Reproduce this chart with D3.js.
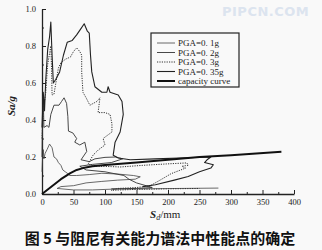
<!DOCTYPE html>
<html>
<head>
<meta charset="utf-8">
<script src="https://cdn.jsdelivr.net/npm/d3@7"></script>
<style>
  body { margin: 0; background: #f9f9f9; }
  svg { display: block; }
</style>
</head>
<body>
<div id="chart"></div>
<script>
const width = 322;
const height = 250;

// demand spectra (Sd mm, Sa/g)
const pga01 = [[0,0.12],[1,0.2],[2,0.24],[3,0.19],[5,0.22],[8,0.24],[12,0.27],[16,0.25],[19,0.2],[23,0.19],[26,0.17],[30,0.155],[33,0.13],[37,0.12],[41,0.11],[44,0.1],[55,0.1],[75,0.105],[95,0.112],[120,0.108],[145,0.1],[156,0.093],[148,0.08],[120,0.075],[95,0.068],[70,0.06],[50,0.045],[30,0.04],[24,0.03],[50,0.022],[80,0.022],[110,0.026],[160,0.028],[220,0.03],[280,0.032]];
const pga02 = [[0,0.2],[1,0.45],[2,0.53],[3,0.36],[8,0.37],[11,0.36],[14,0.43],[19,0.48],[27,0.48],[31,0.5],[35,0.52],[39,0.49],[41,0.42],[42,0.34],[49,0.33],[55,0.3],[52,0.28],[60,0.265],[68,0.28],[71,0.23],[65,0.2],[62,0.185],[75,0.175],[84,0.19],[100,0.198],[117,0.2],[128,0.19],[110,0.17],[80,0.16],[60,0.15],[70,0.13],[100,0.12],[130,0.1],[138,0.08],[150,0.06],[175,0.035],[150,0.03],[110,0.028]];
const pga03 = [[0,0.3],[2,0.45],[4,0.5],[6,0.55],[9,0.7],[12,0.76],[14,0.8],[15,0.7],[16,0.535],[19,0.54],[22,0.6],[26,0.68],[30,0.71],[38,0.73],[45,0.74],[50,0.77],[55,0.79],[60,0.77],[63,0.75],[63,0.66],[65,0.55],[70,0.52],[76,0.48],[87,0.5],[92,0.52],[89,0.44],[100,0.44],[108,0.43],[111,0.38],[111,0.335],[97,0.3],[100,0.265],[90,0.24],[81,0.21],[73,0.16],[85,0.15],[110,0.148],[124,0.146],[160,0.155],[200,0.163],[230,0.168],[232,0.155],[222,0.15],[228,0.14],[205,0.11],[190,0.08],[171,0.043],[150,0.035],[120,0.03],[110,0.02],[150,0.025],[200,0.028],[250,0.03]];
const pga035 = [[0,0.36],[2,0.55],[4,0.45],[6,0.62],[9,0.78],[12,0.85],[14,0.93],[16,0.75],[18,0.6],[22,0.62],[28,0.66],[34,0.75],[40,0.82],[48,0.83],[55,0.86],[61,0.89],[67,0.92],[72,0.88],[75,0.87],[77,0.75],[79,0.66],[84,0.58],[95,0.55],[103,0.55],[105,0.58],[108,0.55],[121,0.535],[127,0.5],[129,0.43],[124,0.335],[116,0.28],[113,0.21],[121,0.195],[140,0.185],[180,0.19],[230,0.196],[268,0.2],[262,0.185],[258,0.17],[272,0.158],[268,0.14],[250,0.12],[232,0.095],[210,0.075],[180,0.05],[160,0.04]];
const capacity = [[0,0],[30,0.08],[45,0.113],[55,0.13],[65,0.14],[80,0.15],[100,0.157],[150,0.17],[200,0.185],[250,0.2],[300,0.21],[380,0.228]];

const xTicks = [0, 50, 100, 150, 200, 250, 300, 350, 400];
const yTicks = [0, 0.2, 0.4, 0.6, 0.8, 1.0];
const legendLabels = ["PGA=0. 1g", "PGA=0. 2g", "PGA=0. 3g", "PGA=0. 35g", "capacity curve"];

const x = d3.scaleLinear().domain([0, 400]).range([42, 294]);
const y = d3.scaleLinear().domain([0, 1]).range([194, 9]);

const svg = d3.select("#chart").append("svg")
    .attr("width", width)
    .attr("height", height);

svg.append("rect").attr("width", width).attr("height", height).attr("fill", "#f9f9f9");

// watermark
svg.append("text")
    .attr("x", 222).attr("y", 16)
    .attr("font-family", "DejaVu Sans")
    .attr("font-weight", "bold")
    .attr("font-size", 13)
    .attr("letter-spacing", 0.5)
    .attr("fill", "#dce4ef")
    .text("PIPCN.COM");

// minor ticks
svg.append("g")
    .attr("transform", `translate(0,${y(0)})`)
    .call(d3.axisBottom(x).tickValues(d3.range(25, 400, 50)).tickSize(-2).tickFormat(""))
    .call(g => g.select(".domain").remove())
    .selectAll("line").attr("stroke", "#222");
svg.append("g")
    .attr("transform", `translate(${x(0)},0)`)
    .call(d3.axisLeft(y).tickValues(d3.range(0.1, 1, 0.2)).tickSize(-2).tickFormat(""))
    .call(g => g.select(".domain").remove())
    .selectAll("line").attr("stroke", "#222");

const xAxis = svg.append("g")
    .attr("transform", `translate(0,${y(0)})`)
    .call(d3.axisBottom(x).tickValues(xTicks).tickSizeInner(-4).tickSizeOuter(0).tickPadding(5));
const yAxis = svg.append("g")
    .attr("transform", `translate(${x(0)},0)`)
    .call(d3.axisLeft(y).tickValues(yTicks).tickSizeInner(-4).tickSizeOuter(0).tickPadding(6).tickFormat(d3.format(".1f")));

[xAxis, yAxis].forEach(g => {
    g.select(".domain").attr("stroke", "#222").attr("stroke-width", 1.3);
    g.selectAll("line").attr("stroke", "#222");
    g.selectAll("text")
        .attr("font-family", "Liberation Serif")
        .attr("font-size", 8.5)
        .attr("fill", "#222");
});

const line = d3.line()
    .x(d => x(d[0]))
    .y(d => y(d[1]));

const series = [
    {data: pga01, width: 0.8, dash: null, color: "#444"},
    {data: pga02, width: 0.9, dash: null, color: "#333"},
    {data: pga03, width: 1, dash: "1.2,1.2", color: "#333"},
    {data: pga035, width: 1.1, dash: null, color: "#222"},
    {data: capacity, width: 2, dash: null, color: "#111"}
];

svg.append("g")
    .selectAll("path")
    .data(series)
    .join("path")
        .attr("d", d => line(d.data))
        .attr("fill", "none")
        .attr("stroke", d => d.color)
        .attr("stroke-width", d => d.width)
        .attr("stroke-dasharray", d => d.dash)
        .attr("stroke-linejoin", "round");

// legend
const legend = svg.append("g");
legend.append("rect")
    .attr("x", 151).attr("y", 33)
    .attr("width", 88).attr("height", 54)
    .attr("fill", "#f9f9f9")
    .attr("stroke", "#222")
    .attr("stroke-width", 1.2);

const rows = legend.selectAll("g.row")
    .data(series)
    .join("g")
        .attr("class", "row")
        .attr("transform", (d, i) => `translate(0,${43 + i * 9.5})`);
rows.append("line")
    .attr("x1", 157).attr("x2", 175)
    .attr("stroke", d => d.color)
    .attr("stroke-width", d => d.width)
    .attr("stroke-dasharray", d => d.dash);
rows.append("text")
    .attr("x", 178).attr("dy", "0.35em")
    .attr("font-family", "Liberation Serif")
    .attr("font-size", 9)
    .attr("fill", "#222")
    .text((d, i) => legendLabels[i]);

// axis titles
svg.append("text")
    .attr("transform", "translate(15,106) rotate(-90)")
    .attr("text-anchor", "middle")
    .attr("font-family", "Liberation Serif")
    .attr("font-style", "italic")
    .attr("font-weight", "bold")
    .attr("font-size", 11)
    .attr("fill", "#222")
    .text("Sa/g");

const xt = svg.append("text")
    .attr("x", 150).attr("y", 218)
    .attr("font-family", "Liberation Serif")
    .attr("font-size", 11)
    .attr("fill", "#222");
xt.append("tspan").attr("font-style", "italic").attr("font-weight", "bold").text("S");
xt.append("tspan").attr("font-style", "italic").attr("font-size", 8).attr("dy", 2).text("d");
xt.append("tspan").attr("dy", -2).text("/mm");

// caption
svg.append("text")
    .attr("x", 160).attr("y", 244)
    .attr("text-anchor", "middle")
    .attr("font-family", "Noto Sans CJK SC")
    .attr("font-weight", "bold")
    .attr("font-size", 15)
    .attr("fill", "#111")
    .text("图 5 与阻尼有关能力谱法中性能点的确定");
</script>
</body>
</html>
